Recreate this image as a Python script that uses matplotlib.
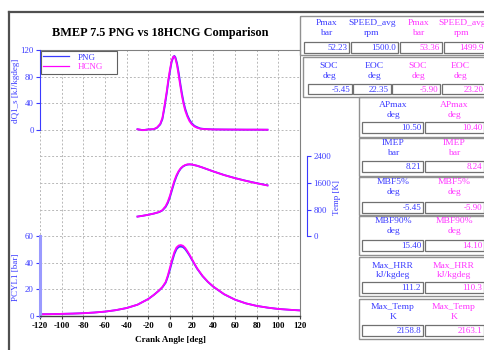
import matplotlib
matplotlib.use('Agg')
import matplotlib.pyplot as plt
from matplotlib.patches import Rectangle
from matplotlib.lines import Line2D

# ---------------- data ----------------
series_names = ['PNG', 'HCNG']
x_ticks = list(range(-120, 121, 20))
pcyl_ticks = [0, 20, 40, 60]
temp_ticks = [0, 800, 1600, 2400]
hrr_ticks = [0, 40, 80, 120]

angle_p = [-120, -110, -100, -90, -80, -70, -60, -50, -40, -30, -20, -15, -10, -7, -4, -2,
           0, 2, 4, 6, 8, 10, 12, 14, 16, 18, 20, 25, 30, 35, 40, 50, 60, 70, 80, 90, 100, 110, 120]
pcyl_png = [1.3, 1.4, 1.6, 1.8, 2.1, 2.6, 3.3, 4.4, 6.0, 8.5, 12.8, 15.8, 19.2, 21.6, 25.0, 29.5,
            35.0, 41.0, 46.5, 50.2, 51.9, 52.2, 51.8, 50.3, 48.0, 45.5, 42.6, 35.6, 30.0, 25.6, 22.0,
            16.3, 12.3, 9.5, 7.6, 6.3, 5.3, 4.7, 4.2]
pcyl_hcng = [1.3, 1.4, 1.6, 1.8, 2.1, 2.6, 3.3, 4.4, 6.0, 8.5, 12.8, 15.8, 19.3, 21.8, 25.6, 30.5,
             36.5, 42.6, 48.0, 51.5, 53.0, 53.35, 52.8, 51.2, 48.8, 46.1, 43.1, 35.9, 30.2, 25.7, 22.1,
             16.4, 12.3, 9.5, 7.6, 6.3, 5.3, 4.7, 4.2]

angle_t = [-30, -25, -20, -15, -10, -7, -4, -2, 0, 2, 4, 6, 8, 10, 12, 14, 16, 18, 20,
           25, 30, 40, 50, 60, 70, 80, 90]
temp_png = [590, 615, 645, 680, 725, 775, 880, 1000, 1180, 1400, 1620, 1800, 1940, 2035, 2095, 2132,
            2152, 2158.8, 2155, 2118, 2065, 1948, 1840, 1748, 1668, 1596, 1530]
temp_hcng = [590, 615, 645, 680, 728, 785, 905, 1040, 1225, 1450, 1665, 1835, 1960, 2048, 2104, 2140,
             2160, 2163.1, 2158, 2120, 2066, 1948, 1838, 1745, 1664, 1592, 1525]

angle_q = [-30, -25, -20, -15, -12, -9, -7, -5, -3, -1.5, 0, 1.5, 3, 4, 5, 6.5, 8, 9.5, 11,
           12.5, 14, 16, 18, 20, 22.5, 25, 28, 32, 40, 50, 60, 70, 80, 90]
hrr_png = [0.8, -0.5, 0.6, 0.8, 3, 8, 16, 34, 55, 73, 88, 102, 109, 111.2, 109, 100, 86, 70, 55,
           42, 32, 22, 15, 10, 6, 4, 2, 1.2, 0.6, 0.4, 0.3, 0.2, 0.2, 0.1]
hrr_hcng = [0.8, -0.6, 0.5, 1.0, 3.5, 9, 18, 37, 58, 76, 91, 104, 110, 110.3, 107, 97, 82, 66, 51,
            39, 29, 20, 13, 8.5, 5, 3, 1.6, 1.0, 0.5, 0.4, 0.3, 0.2, 0.2, 0.1]

wide_names = [['Pmax', 'SPEED_avg'], ['SOC', 'EOC']]
wide_units = [['bar', 'rpm'], ['deg', 'deg']]
wide_png = [['52.23', '1500.0'], ['-5.45', '22.35']]
wide_hcng = [['53.36', '1499.9'], ['-5.90', '23.20']]

narrow_names = ['APmax', 'IMEP', 'MBF5%', 'MBF90%', 'Max_HRR', 'Max_Temp']
narrow_units = ['deg', 'bar', 'deg', 'deg', 'kJ/kgdeg', 'K']
narrow_png = ['10.50', '8.21', '-5.45', '15.40', '111.2', '2158.8']
narrow_hcng = ['10.40', '8.24', '-5.90', '14.10', '110.3', '2163.1']

# ---------------- style ----------------
BLUE = '#3a3aff'
MAG = '#ff00ff'
MAGT = '#ff33ff'
SERIF = 'Liberation Serif'
plt.rcParams['font.family'] = SERIF
W, H = 485, 350

fig = plt.figure(figsize=(W / 100, H / 100), dpi=100)
fig.patch.set_facecolor('white')

L, R, T, B = 40, 300, 50, 316
pos = [L / W, (H - B) / H, (R - L) / W, (B - T) / H]

# ---- pressure axis (owns grid) ----
axP = fig.add_axes(pos)
axP.set_xlim(-120, 120)
axP.set_ylim(0, 200)
axP.set_xticks(x_ticks)
axP.set_xticklabels([str(v) for v in x_ticks], fontsize=6.3, fontweight='bold')
axP.set_yticks(pcyl_ticks)
axP.set_yticklabels([str(v) for v in pcyl_ticks])
axP.set_yticks(list(range(0, 201, 20)), minor=True)
axP.tick_params(axis='y', which='minor', length=0)
axP.tick_params(axis='y', which='major', length=3, width=0.8, color=BLUE, pad=1.5,
                labelsize=6.3, labelcolor=BLUE)
axP.tick_params(axis='x', which='major', length=2.5, width=0.8, color='#404040', pad=2)
axP.grid(True, which='both', axis='y', color='#b8b8b8', linestyle=(0, (2, 2)), linewidth=0.7)
axP.grid(True, which='major', axis='x', color='#b8b8b8', linestyle=(0, (2, 2)), linewidth=0.7)
for s in ['top', 'right']:
    axP.spines[s].set_color('#808080')
    axP.spines[s].set_linewidth(0.8)
axP.spines['bottom'].set_color('#404040')
axP.spines['bottom'].set_linewidth(1.0)
axP.spines['left'].set_bounds(0, 60)
axP.spines['left'].set_color('#9a9aff')
axP.spines['left'].set_linewidth(2.2)
axP.plot(angle_p, pcyl_png, color=BLUE, lw=1.3)
axP.plot(angle_p, pcyl_hcng, color=MAG, lw=1.3)
axP.set_xlabel('Crank Angle [deg]', fontsize=6.5, fontweight='bold')
axP.xaxis.set_label_coords(0.5, -0.075)
axP.set_ylabel('PCYL1 [bar]', fontsize=6.5, color=BLUE)
axP.yaxis.set_label_coords(-0.077, 0.147)

# ---- temperature axis (right) ----
axT = fig.add_axes(pos, sharex=axP)
axT.patch.set_visible(False)
axT.set_ylim(-2400, 5600)
axT.yaxis.tick_right()
axT.yaxis.set_label_position('right')
axT.set_yticks(temp_ticks)
axT.set_yticklabels([str(v) for v in temp_ticks])
axT.tick_params(axis='y', length=3, width=0.8, color=BLUE, pad=1.5,
                labelsize=6.3, labelcolor=BLUE)
axT.tick_params(axis='x', bottom=False, labelbottom=False)
for s in ['top', 'left', 'bottom']:
    axT.spines[s].set_visible(False)
axT.spines['right'].set_position(('outward', 5))
axT.spines['right'].set_bounds(0, 2400)
axT.spines['right'].set_color(BLUE)
axT.spines['right'].set_linewidth(0.8)
axT.plot(angle_t, temp_png, color=BLUE, lw=1.3)
axT.plot(angle_t, temp_hcng, color=MAG, lw=1.3)
axT.set_ylabel('Temp [K]', fontsize=6.5, color=BLUE)
axT.yaxis.set_label_coords(1.128, 0.447)

# ---- heat release axis (left, top) ----
axQ = fig.add_axes(pos, sharex=axP)
axQ.patch.set_visible(False)
axQ.set_ylim(-280, 120)
axQ.set_yticks(hrr_ticks)
axQ.set_yticklabels([str(v) for v in hrr_ticks])
axQ.tick_params(axis='y', length=3, width=0.8, color=BLUE, pad=1.5,
                labelsize=6.3, labelcolor=BLUE)
axQ.tick_params(axis='x', bottom=False, labelbottom=False)
for s in ['top', 'right', 'bottom']:
    axQ.spines[s].set_visible(False)
axQ.spines['left'].set_bounds(0, 120)
axQ.spines['left'].set_color(BLUE)
axQ.spines['left'].set_linewidth(0.8)
lq1, = axQ.plot(angle_q, hrr_png, color=BLUE, lw=1.3, label=series_names[0])
lq2, = axQ.plot(angle_q, hrr_hcng, color=MAG, lw=1.3, label=series_names[1])
axQ.set_ylabel('dQ1_s [kJ/kgdeg]', fontsize=6.5, color=BLUE)
axQ.yaxis.set_label_coords(-0.077, 0.846)

leg = axQ.legend(handles=[lq1, lq2], loc='upper left', mode='expand',
                 bbox_to_anchor=(41 / W, (H - 73) / H, 76 / W, 22 / H),
                 bbox_transform=fig.transFigure, borderaxespad=0, fontsize=6.5,
                 handlelength=2.8, handletextpad=1.0, labelspacing=0.15,
                 borderpad=0.25, fancybox=False, framealpha=1, edgecolor='#606060')
leg.get_frame().set_linewidth(0.8)
for line in leg.get_lines():
    line.set_linewidth(0.9)
for txt, c in zip(leg.get_texts(), [BLUE, MAGT]):
    txt.set_color(c)

fig.text(160 / W, 1 - 33 / H, 'BMEP 7.5 PNG vs 18HCNG Comparison', ha='center', va='center',
         fontsize=8.8, fontweight='bold')

# ---------------- readout panel (pixel overlay) ----------------
ov = fig.add_axes([0, 0, 1, 1])
ov.set_xlim(0, W)
ov.set_ylim(H, 0)
ov.axis('off')

# outer frame
ov.add_line(Line2D([9, 9], [12, H], color='#505050', lw=1.6))
ov.add_line(Line2D([9, W], [12, 12], color='#505050', lw=1.6))

def group_box(x0, y0, x1, y1):
    ov.add_patch(Rectangle((x0, y0), x1 - x0, y1 - y0, fill=False, edgecolor='#909090', lw=1.0))

def value_box(x0, y0, x1, y1, text, color):
    ov.add_patch(Rectangle((x0, y0), x1 - x0, y1 - y0, facecolor='white', edgecolor='#707070', lw=0.9))
    ov.text(min(x1 - 2, 484), (y0 + y1) / 2 + 0.5, text, ha='right', va='center',
            fontsize=6.5, color=color)

def header(xc, y, name, unit, color):
    ov.text(xc, y, name, ha='center', va='center', fontsize=6.8, color=color)
    ov.text(xc, y + 10, unit, ha='center', va='center', fontsize=6.8, color=color)

wide_boxes = [(300, 16, 490, 55), (303, 57, 490, 97)]
wide_head_y = [23, 66]
wide_val_y = [(42, 53), (84, 94)]
wide_centers = [[326, 372, 418, 462], [329, 374, 418, 460]]
wide_cells = [[(304, 349), (351, 398), (400, 442), (444, 489)],
              [(308, 352), (353, 391), (392, 440), (442, 489)]]
for g in range(2):
    group_box(*wide_boxes[g])
    names = wide_names[g] + wide_names[g]
    units = wide_units[g] + wide_units[g]
    vals = wide_png[g] + wide_hcng[g]
    cols = [BLUE, BLUE, MAGT, MAGT]
    for k in range(4):
        header(wide_centers[g][k], wide_head_y[g], names[k], units[k], cols[k])
        x0, x1 = wide_cells[g][k]
        value_box(x0, wide_val_y[g][0], x1, wide_val_y[g][1], vals[k], cols[k])

narrow_boxes = [(359, 97, 490, 137), (359, 138, 490, 176), (359, 177, 490, 215),
                (359, 216, 490, 255), (359, 257, 490, 296), (359, 299, 490, 339)]
narrow_head_y = [105, 143, 182, 221, 265, 307]
narrow_val_top = [122, 161, 202, 240, 282, 325]
for i in range(6):
    group_box(*narrow_boxes[i])
    header(393, narrow_head_y[i], narrow_names[i], narrow_units[i], BLUE)
    header(454, narrow_head_y[i], narrow_names[i], narrow_units[i], MAGT)
    value_box(362, narrow_val_top[i], 423, narrow_val_top[i] + 11, narrow_png[i], BLUE)
    value_box(425, narrow_val_top[i], 484, narrow_val_top[i] + 11, narrow_hcng[i], MAGT)

fig.savefig('out.png', dpi=100)
